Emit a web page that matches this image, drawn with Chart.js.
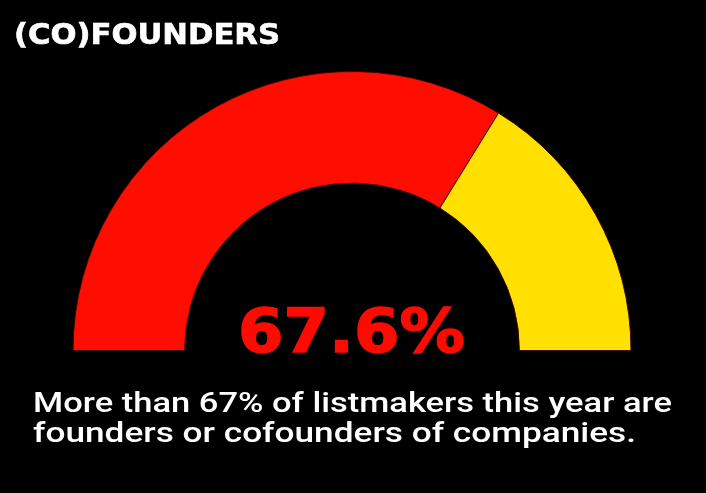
<!DOCTYPE html>
<html>
<head>
<meta charset="utf-8">
<script src="https://cdn.jsdelivr.net/npm/chart.js@4.4.1/dist/chart.umd.min.js"></script>
<style>
  html, body { margin:0; padding:0; background:#000; width:706px; height:493px; overflow:hidden; }
  #wrap { position:relative; width:706px; height:493px; }
  #c { position:absolute; left:0; top:0; }
  .t { position:absolute; white-space:nowrap; color:#fff; transform-origin:0 0; }
  #title { left:14px; top:18px; font-family:"DejaVu Sans"; font-weight:bold; font-size:28px; -webkit-text-stroke:0.6px #fff; }
  #big { left:238px; top:296px; font-family:"DejaVu Sans"; font-weight:bold; font-size:60px; color:#ff0a00; -webkit-text-stroke:1.5px #ff0a00; }
  .cap { left:33px; font-family:"Roboto"; font-weight:500; font-size:28px; line-height:30px; }
  #cap1 { top:388px; }
  #cap2 { top:418px; }
</style>
</head>
<body>
<div id="wrap">
  <canvas id="c" width="706" height="493"></canvas>
  <div class="t" id="title">(CO)FOUNDERS</div>
  <div class="t" id="big">67.6%</div>
  <div class="t cap" id="cap1">More than 67% of listmakers this year are</div>
  <div class="t cap" id="cap2">founders or cofounders of companies.</div>
</div>
<script>
const categories = ["Founders or cofounders", "Others"];
const values = [67.6, 32.4];
const colors = ["#ff0d00", "#ffe000"];

new Chart(document.getElementById('c'), {
  type: 'doughnut',
  data: {
    labels: categories,
    datasets: [{
      data: values,
      backgroundColor: colors,
      borderColor: "#3a0a00",
      borderWidth: 1
    }]
  },
  options: {
    responsive: false,
    animation: false,
    rotation: -90,
    circumference: 180,
    cutout: '60%',
    layout: { padding: { left: 72, right: 74, top: 71, bottom: 142 } },
    plugins: { legend: { display: false }, tooltip: { enabled: false } }
  }
});

function fit(id, w) {
  const el = document.getElementById(id);
  const r = el.getBoundingClientRect();
  el.style.transform = 'scaleX(' + (w / r.width) + ')';
}
fit('title', 266);
fit('big', 227);
fit('cap1', 639);
fit('cap2', 603);
</script>
</body>
</html>
